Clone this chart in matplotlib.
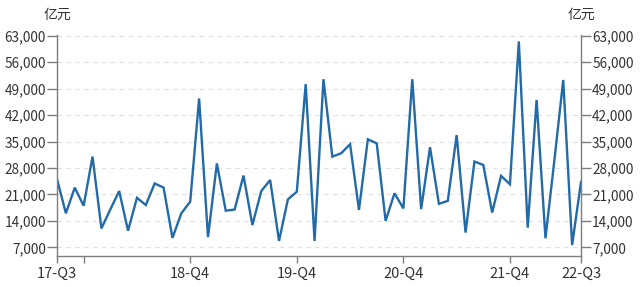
import matplotlib
matplotlib.use("Agg")
import matplotlib.pyplot as plt
import pandas as pd

plt.rcParams['font.family'] = ['Noto Sans CJK SC', 'DejaVu Sans']

# Monthly data, Sep 2017 - Aug 2022 (亿元)
months = pd.period_range('2017-09', '2022-08', freq='M')
categories = [f"{p.year % 100:02d}-Q{p.quarter}" for p in months]
values = [25100, 16000, 22800, 18000, 31000, 12000, 17000, 21900, 11400, 20100,
          18200, 23900, 22800, 9500, 16000, 19100, 46400, 9700, 29200, 16700,
          17000, 26000, 12900, 21900, 24800, 8700, 19700, 21700, 50200, 8700,
          51500, 31000, 31900, 34300, 16900, 35600, 34500, 14000, 21300, 17300,
          51500, 17100, 33500, 18500, 19300, 36700, 10900, 29700, 28800, 16200,
          25900, 23700, 61500, 12200, 46000, 9400, 30000, 51300, 7600, 24300]
y_ticks = [7000, 14000, 21000, 28000, 35000, 42000, 49000, 56000, 63000]
shown_tick_idx = [0, 3, 15, 27, 39, 51, 59]
labelled_idx = [0, 15, 27, 39, 51, 59]
unit = "亿元"

fig = plt.figure(figsize=(6.4, 2.87), dpi=100)
ax = fig.add_axes([57/640, 1-256/287, (581-57)/640, (256-35)/287])
x = list(range(len(values)))
ax.plot(x, values, color='#226ba8', lw=1.7, solid_joinstyle='miter')

ax.set_xlim(0, len(values)-1)
ax.set_ylim(4700, 63200)
ax.set_yticks(y_ticks)
ax.set_yticklabels([f"{v:,}" for v in y_ticks])
ax.yaxis.grid(True, linestyle=(0, (4, 4)), color='#e0e0e0', lw=0.8)
ax.set_axisbelow(True)

ax.set_xticks(shown_tick_idx)
ax.set_xticklabels([categories[i] if i in labelled_idx else '' for i in shown_tick_idx])

axis_col = '#7d7d7d'
ax.spines['top'].set_visible(False)
for s in ['left', 'right', 'bottom']:
    ax.spines[s].set_color(axis_col)
    ax.spines[s].set_linewidth(1.0)

ax.tick_params(axis='y', which='both', left=True, right=True, labelleft=True,
               labelright=True, length=7, width=1.0, color=axis_col, pad=1,
               labelsize=9.8, labelcolor='#333333')
ax.tick_params(axis='x', length=5, width=1.0, color=axis_col, pad=3,
               labelsize=10.5, labelcolor='#333333')

fig.text(57/640, 1-15/287, unit, ha='center', va='center',
         fontsize=10, color='#333333')
fig.text(581/640, 1-15/287, unit, ha='center', va='center',
         fontsize=10, color='#333333')

fig.savefig('out.png', dpi=100, facecolor='white')
